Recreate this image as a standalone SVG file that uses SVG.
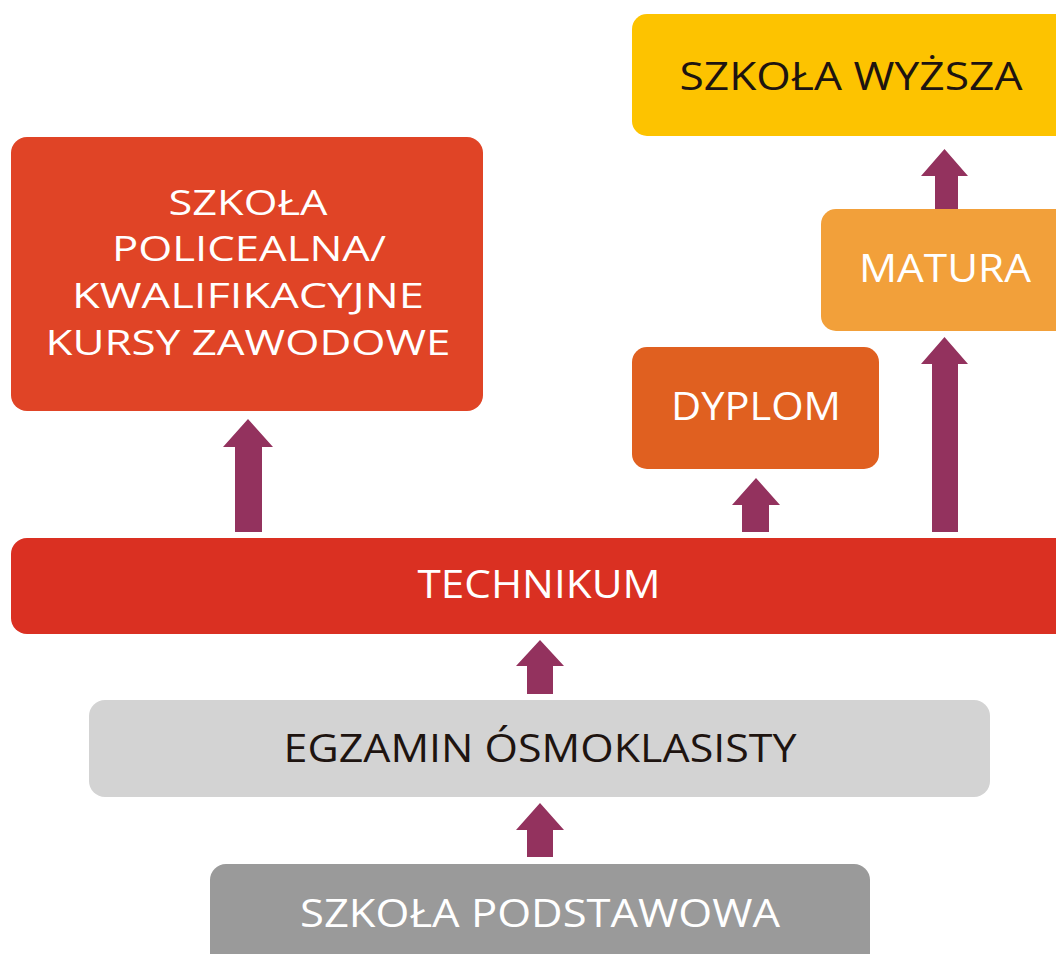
<svg xmlns="http://www.w3.org/2000/svg" width="1056" height="954" viewBox="0 0 1056 954">
<style>
.t{font-family:"Open Sans","Liberation Sans",sans-serif;font-size:38px;text-anchor:middle}
.s{font-size:34px}
.w{fill:#ffffff}
.d{fill:#1e1410}
.c{font-family:"Open Sans","Liberation Sans",sans-serif;font-size:38px;text-anchor:middle}
</style>
<rect width="1056" height="954" fill="#ffffff"/>
<g id="connectors" fill="#93325E">
<path d="M935 209 V176 H921 L944.5 149 L968 176 H958 V209 Z"/>
<path d="M932 532 V364 H921 L944.5 337 L968 364 H958 V532 Z"/>
<path d="M742 532 V505 H732 L756 478 L780 505 H769 V532 Z"/>
<path d="M235 532 V447 H223 L248 419 L273 447 H262 V532 Z"/>
<path d="M527 694 V666 H516 L540 640 L564 666 H553 V694 Z"/>
<path d="M527 857 V830 H516 L540 803 L564 830 H553 V857 Z"/>
</g>
<g id="szkola-wyzsza">
<rect x="632" y="14" width="440" height="122" rx="15" fill="#FDC300"/>
<text class="t d" x="851" y="90" textLength="343" lengthAdjust="spacingAndGlyphs">SZKOŁA WYŻSZA</text>
</g>
<g id="szkola-policealna">
<rect x="11" y="137" width="472" height="274" rx="16" fill="#E04426"/>
<text class="t s w" x="248" y="215" textLength="159" lengthAdjust="spacingAndGlyphs">SZKOŁA</text>
<text class="t s w" x="249" y="261" textLength="274" lengthAdjust="spacingAndGlyphs">POLICEALNA/</text>
<text class="t s w" x="248" y="308" textLength="352" lengthAdjust="spacingAndGlyphs">KWALIFIKACYJNE</text>
<text class="t s w" x="248" y="355" textLength="405" lengthAdjust="spacingAndGlyphs">KURSY ZAWODOWE</text>
</g>
<g id="matura">
<rect x="821" y="209" width="250" height="122" rx="15" fill="#F2A03A"/>
<text class="t w" x="945" y="282" textLength="172" lengthAdjust="spacingAndGlyphs">MATURA</text>
</g>
<g id="dyplom">
<rect x="632" y="347" width="247" height="122" rx="15" fill="#E06020"/>
<text class="t w" x="756" y="420" textLength="170" lengthAdjust="spacingAndGlyphs">DYPLOM</text>
</g>
<g id="technikum">
<rect x="11" y="538" width="1060" height="96" rx="16" fill="#DA3022"/>
<text class="c w" x="539" y="598" textLength="243" lengthAdjust="spacingAndGlyphs">TECHNIKUM</text>
</g>
<g id="egzamin">
<rect x="89" y="700" width="901" height="97" rx="16" fill="#D3D3D3"/>
<text class="c d" x="540" y="762" textLength="513" lengthAdjust="spacingAndGlyphs">EGZAMIN ÓSMOKLASISTY</text>
</g>
<g id="szkola-podstawowa">
<rect x="210" y="864" width="660" height="110" rx="16" fill="#9A9A9A"/>
<text class="c w" x="540" y="927" textLength="480" lengthAdjust="spacingAndGlyphs">SZKOŁA PODSTAWOWA</text>
</g>
</svg>
